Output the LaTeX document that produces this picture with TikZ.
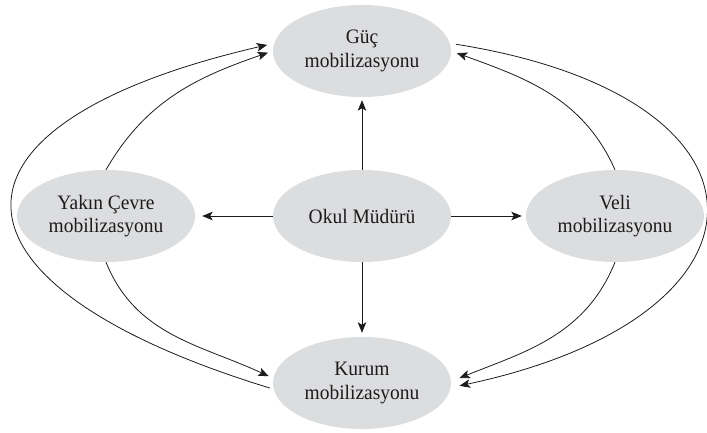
\documentclass[tikz,border=0pt]{standalone}
\usepackage{fontspec}
\setmainfont{Liberation Serif}[FakeStretch=0.95]
\usetikzlibrary{shapes.geometric,arrows.meta}
\definecolor{ellfill}{RGB}{220,221,223}
\definecolor{ink}{RGB}{30,27,28}
\begin{document}
\begin{tikzpicture}[x=1pt,y=1pt,
  mob/.style={ellipse, fill=ellfill, minimum width=178pt, minimum height=92pt, inner sep=0pt, align=center, font=\fontsize{20.5}{23.5}\selectfont, text=ink},
  arr/.style={-{Stealth[length=10.5pt,width=8.5pt,inset=2.5pt]}, line width=0.9pt, draw=ink},
  crv/.style={arr, line width=0.8pt}]
\useasboundingbox (0,0) rectangle (707,432);
\node[mob] (guc) at (362,381) {Güç\\mobilizasyonu};
\node[mob] (okul) at (362,216) {Okul Müdürü};
\node[mob] (yakin) at (106,216) {Yakın Çevre\\mobilizasyonu};
\node[mob] (veli) at (615,216) {Veli\\mobilizasyonu};
\node[mob] (kurum) at (362,49) {Kurum\\mobilizasyonu};
% straight arrows
\draw[arr, shorten >=3pt] (okul.north) -- (guc.south);
\draw[arr, shorten >=7pt] (okul.west) -- (yakin.east);
\draw[arr, shorten >=4pt] (okul.east) -- (veli.west);
\draw[arr, shorten >=4pt] (okul.south) -- (kurum.north);
% left curves
\draw[crv, shorten >=5pt] (yakin.north) to[out=60, in=199] (guc.west);
\draw[crv, shorten <=4pt, shorten >=7pt] (kurum.184) to[out=163, in=193, distance=360pt] (guc.175);
\draw[crv, shorten >=5pt] (yakin.south) to[out=292, in=155] (kurum.177);
% right curves
\draw[crv, shorten >=6pt] (veli.north) to[out=114, in=340] (guc.east);
\draw[crv, shorten <=6pt, shorten >=9pt] (guc.5) to[out=351, in=12, distance=345pt] (kurum.357);
\draw[crv, shorten >=9pt] (veli.south) to[out=248, in=22] (kurum.1);
\end{tikzpicture}
\end{document}
